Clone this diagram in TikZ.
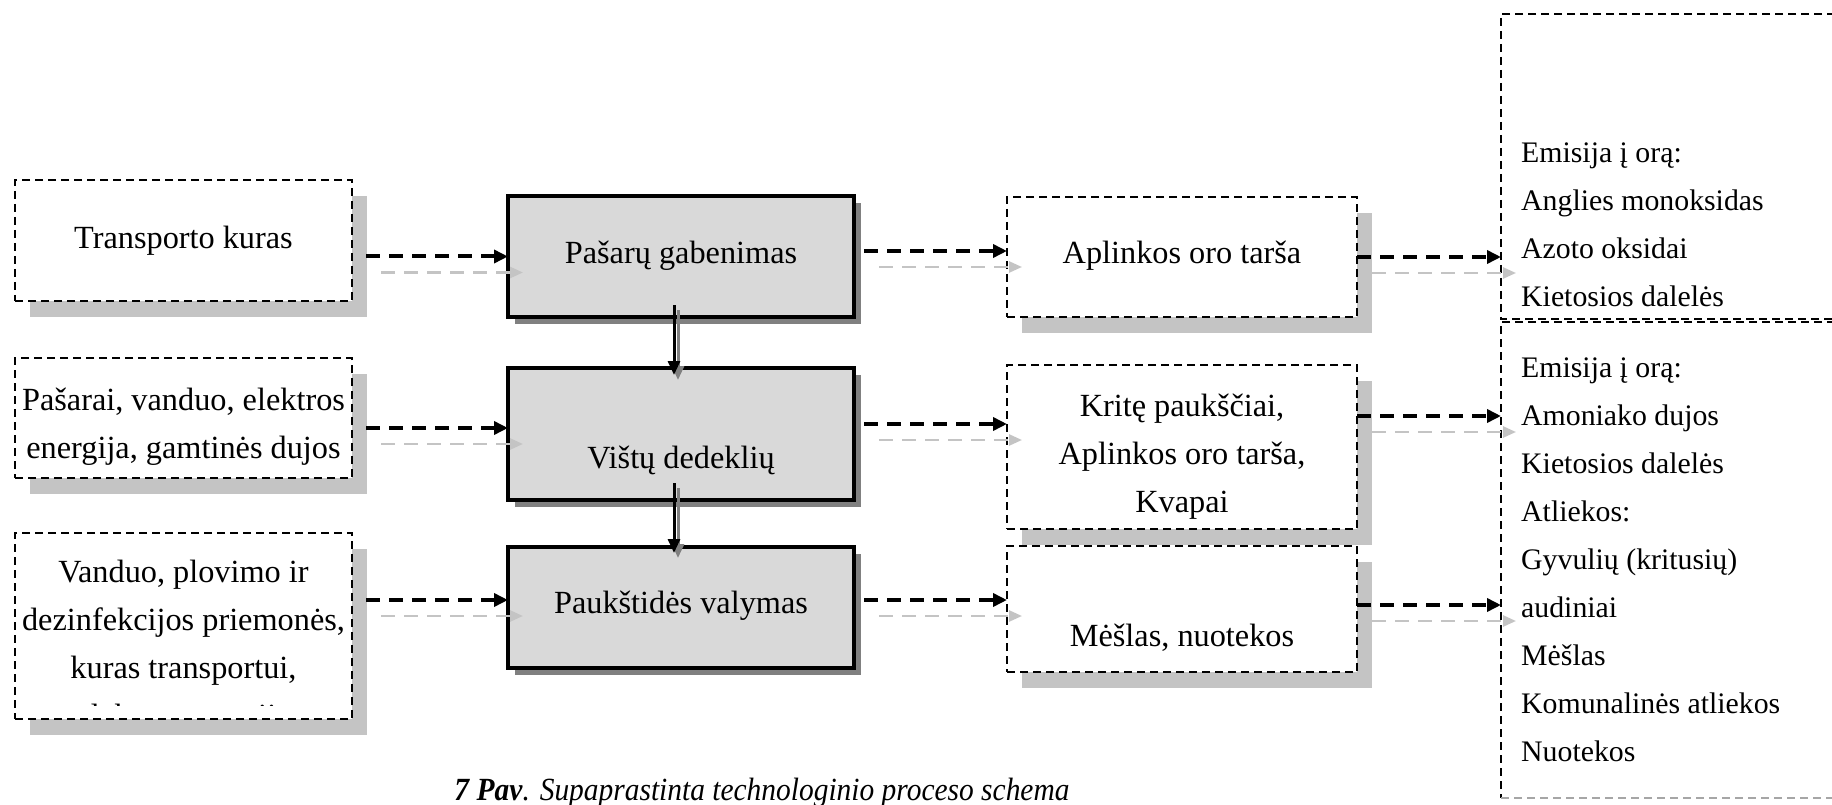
\documentclass[tikz,border=0pt]{standalone}
\usepackage{graphicx}
\usepackage{fontspec}
\setmainfont{Liberation Serif}
\usetikzlibrary{arrows.meta,calc,shadows}
\definecolor{shadowlight}{HTML}{C4C4C4}
\definecolor{shadowdark}{HTML}{808080}
\definecolor{boxfill}{HTML}{D9D9D9}
\definecolor{arrowshadow}{HTML}{C4C4C4}
\begin{document}
\begin{tikzpicture}[x=1pt,y=-1pt,
  dbox/.style={draw=black, line width=2pt, dash pattern=on 8pt off 5pt, fill=white, inner sep=0pt, outer sep=0pt},
  lshadow/.style={drop shadow={shadow xshift=15pt, shadow yshift=-16pt, fill=shadowlight, opacity=1}},
  mbox/.style={draw=black, line width=4pt, fill=boxfill, inner sep=0pt, outer sep=0pt,
    drop shadow={shadow xshift=7pt, shadow yshift=-7pt, fill=shadowdark, opacity=1}},
  rbox/.style={fill=white, inner sep=0pt, outer sep=0pt},
  redge/.style={draw=black, line width=2pt, dash pattern=on 8pt off 5pt},
  txt/.style={font=\fontsize{32.3pt}{48pt}\selectfont, inner sep=0pt, align=center},
  ltxt/.style={font=\fontsize{29.8pt}{48pt}\selectfont, inner sep=0pt, align=left, anchor=west},
  darrow/.style={draw=black, line width=4pt, dash pattern=on 14pt off 9pt, -{Triangle[length=14pt,width=13pt]}},
  sarrow/.style={draw=arrowshadow, line width=2.5pt, dash pattern=on 14pt off 9pt, -{Triangle[length=13pt,width=11pt]}},
  varrow/.style={draw=black, line width=3pt, -{Triangle[length=14pt,width=12pt]}},
  vshadow/.style={draw=shadowdark, line width=3pt, -{Triangle[length=14pt,width=12pt]}}
]
\useasboundingbox (0,0) rectangle (1832,805);
\clip (0,0) rectangle (1832,805);

% right boxes
\node[rbox, minimum width=360pt, minimum height=305pt] (r1) at (1681,166.5) {};
\draw[redge] (r1.north east) -- (r1.north west) -- (r1.south west) -- (r1.south east);
\node[rbox, minimum width=360pt, minimum height=476pt] (r2) at (1681,560) {};
\draw[redge] (r2.north east) -- (r2.north west) -- (r2.south west);
\draw[redge, draw=gray!70] (r2.south west) -- (r2.south east);

% input boxes
\node[dbox, lshadow, minimum width=337pt, minimum height=121pt] (in1) at (183.5,240.5) {};
\node[dbox, lshadow, minimum width=337pt, minimum height=120pt] (in2) at (183.5,418) {};
\node[dbox, lshadow, minimum width=337pt, minimum height=186pt] (in3) at (183.5,626) {};

% main boxes
\node[mbox, minimum width=346pt, minimum height=121pt] (m1) at (681,256.5) {};
\node[mbox, minimum width=346pt, minimum height=132pt] (m2) at (681,434) {};
\node[mbox, minimum width=346pt, minimum height=121pt] (m3) at (681,607.5) {};

% output boxes
\node[dbox, lshadow, minimum width=350pt, minimum height=120pt] (o1) at (1182,257) {};
\node[dbox, lshadow, minimum width=350pt, minimum height=164pt] (o2) at (1182,447) {};
\node[dbox, lshadow, minimum width=350pt, minimum height=126pt] (o3) at (1182,609) {};

% texts
\node[txt] (in1t) at (183.5,239) {\strut Transporto kuras};
\node[txt] (in2t) at (183.5,424.5) {\strut Pašarai, vanduo, elektros\\\strut energija, gamtinės dujos};
\begin{scope}
\clip (in3.north west) rectangle ([yshift=14pt]in3.south east);
\node[txt] (in3t) at (183.5,645) {\strut Vanduo, plovimo ir\\\strut dezinfekcijos priemonės,\\\strut kuras transportui,\\\strut elektros energija};
\end{scope}
\node[txt] (m1t) at (681,254) {\strut Pašarų gabenimas};
\node[txt] (m2t) at (681,459) {\strut Vištų dedeklių};
\node[txt] (m3t) at (681,604) {\strut Paukštidės valymas};
\node[txt] (o1t) at (1182,254) {\strut Aplinkos oro tarša};
\node[txt] (o2t) at (1182,455) {\strut Kritę paukščiai,\\\strut Aplinkos oro tarša,\\\strut Kvapai};
\node[txt] (o3t) at (1182,637) {\strut Mėšlas, nuotekos};
\node[ltxt] (r1t) at (1521,224.75) {\strut Emisija į orą:\\\strut Anglies monoksidas\\\strut Azoto oksidai\\\strut Kietosios dalelės};
\node[ltxt] (r2t) at (1521,559.5) {\strut Emisija į orą:\\\strut Amoniako dujos\\\strut Kietosios dalelės\\\strut Atliekos:\\\strut Gyvulių (kritusių)\\\strut audiniai\\\strut Mėšlas\\\strut Komunalinės atliekos\\\strut Nuotekos};
\node[txt] (cap) at (762,791) {\strut\resizebox{615pt}{\height}{\textbf{\textit{7 Pav}}\textit{. Supaprastinta technologinio proceso schema}}};

% arrow shadows
\begin{scope}[transform canvas={xshift=15pt,yshift=-16pt}]
\draw[sarrow] ($(in1.east |- m1.west)+(14,0)$) -- (m1.west);
\draw[sarrow] ($(in2.east |- m2.west)+(14,-6)$) -- ($(m2.west)+(0,-6)$);
\draw[sarrow] ($(in3.east |- m3.west)+(14,-7.5)$) -- ($(m3.west)+(0,-7.5)$);
\draw[sarrow] ($(m1.east)+(10,-5.5)$) -- (o1.west |- {$(m1.east)+(0,-5.5)$});
\draw[sarrow] ($(m2.east)+(10,-10)$) -- (o2.west |- {$(m2.east)+(0,-10)$});
\draw[sarrow] ($(m3.east)+(10,-7.5)$) -- (o3.west |- {$(m3.east)+(0,-7.5)$});
\draw[sarrow] (o1.east) -- (r1.west |- o1.east);
\draw[sarrow] ($(o2.east)+(0,-31)$) -- (r2.west |- {$(o2.east)+(0,-31)$});
\draw[sarrow] ($(o3.east)+(0,-4)$) -- (r2.west |- {$(o3.east)+(0,-4)$});
\end{scope}

% black dashed arrows
\draw[darrow] ($(in1.east |- m1.west)+(14,0)$) -- (m1.west);
\draw[darrow] ($(in2.east |- m2.west)+(14,-6)$) -- ($(m2.west)+(0,-6)$);
\draw[darrow] ($(in3.east |- m3.west)+(14,-7.5)$) -- ($(m3.west)+(0,-7.5)$);
\draw[darrow] ($(m1.east)+(10,-5.5)$) -- (o1.west |- {$(m1.east)+(0,-5.5)$});
\draw[darrow] ($(m2.east)+(10,-10)$) -- (o2.west |- {$(m2.east)+(0,-10)$});
\draw[darrow] ($(m3.east)+(10,-7.5)$) -- (o3.west |- {$(m3.east)+(0,-7.5)$});
\draw[darrow] (o1.east) -- (r1.west |- o1.east);
\draw[darrow] ($(o2.east)+(0,-31)$) -- (r2.west |- {$(o2.east)+(0,-31)$});
\draw[darrow] ($(o3.east)+(0,-4)$) -- (r2.west |- {$(o3.east)+(0,-4)$});

% vertical arrows
\draw[vshadow] ([xshift=-3pt,yshift=7pt]m1.south) -- ([xshift=-3pt,yshift=-12pt]m2.north);
\draw[varrow] ([xshift=-7pt,yshift=12pt]m1.south) -- ([xshift=-7pt,yshift=-7pt]m2.north);
\draw[vshadow] ([xshift=-3pt,yshift=12pt]m2.south) -- ([xshift=-3pt,yshift=-11pt]m3.north);
\draw[varrow] ([xshift=-7pt,yshift=17pt]m2.south) -- ([xshift=-7pt,yshift=-6pt]m3.north);
\end{tikzpicture}
\end{document}
